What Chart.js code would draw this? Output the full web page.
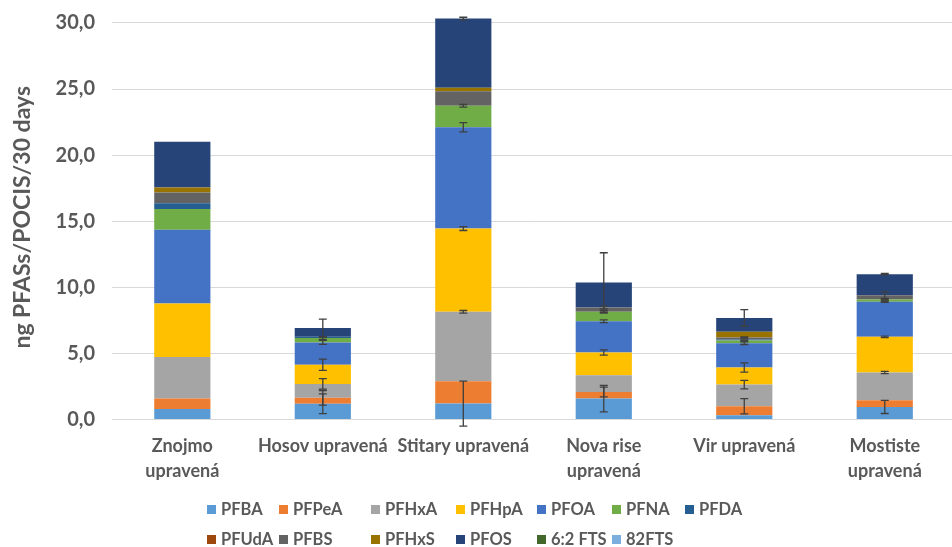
<!DOCTYPE html>
<html>
<head>
<meta charset="utf-8">
<script src="https://cdn.jsdelivr.net/npm/chart.js@4/dist/chart.umd.min.js"></script>
<style>
  html, body { margin: 0; padding: 0; background: #ffffff; }
  body { width: 952px; height: 547px; overflow: hidden; position: relative; }
  #chart { position: absolute; left: 0; top: -14px; }
  #legend {
    position: absolute; left: 207px; top: 494px;
    font-family: Lato, "Open Sans", sans-serif; font-weight: bold; font-size: 16.5px; color: #595959;
  }
  .row { display: flex; height: 30px; align-items: center; }
  .item { display: flex; align-items: center; white-space: nowrap; }
  .sw { width: 9px; height: 9px; margin-right: 5px; }
</style>
</head>
<body>
<canvas id="chart" width="958" height="561"></canvas>
<div id="legend"></div>
<script>
// Sampling sites
const sites = [
  ["Znojmo", "upravená"],
  "Hosov upravená",
  "Stitary upravená",
  ["Nova rise", "upravená"],
  "Vir upravená",
  ["Mostiste", "upravená"]
];

// Compound names, bottom of the stack first
const compounds = ["PFBA", "PFPeA", "PFHxA", "PFHpA", "PFOA", "PFNA", "PFDA",
                   "PFUdA", "PFBS", "PFHxS", "PFOS", "6:2 FTS", "82FTS"];

// ng per POCIS per 30 days, one array per compound (site order as above)
const PFBA   = [0.80, 1.20, 1.21, 1.59, 0.33, 0.96];
const PFPeA  = [0.80, 0.45, 1.69, 0.50, 0.68, 0.50];
const PFHxA  = [3.13, 1.05, 5.25, 1.26, 1.64, 2.10];
const PFHpA  = [4.05, 1.45, 6.30, 1.72, 1.29, 2.70];
const PFOA   = [5.58, 1.69, 7.66, 2.37, 1.84, 2.65];
const PFNA   = [1.56, 0.33, 1.62, 0.71, 0.20, 0.17];
const PFDA   = [0.45, 0.10, 0.00, 0.00, 0.08, 0.00];
const PFUdA  = [0.00, 0.00, 0.00, 0.00, 0.00, 0.00];
const PFBS   = [0.80, 0.00, 1.10, 0.33, 0.15, 0.33];
const PFHxS  = [0.38, 0.00, 0.26, 0.00, 0.43, 0.00];
const PFOS   = [3.47, 0.65, 5.24, 1.89, 1.05, 1.59];
const FTS62  = [0.00, 0.00, 0.00, 0.00, 0.00, 0.00];
const FTS82  = [0.00, 0.00, 0.00, 0.00, 0.00, 0.00];

// Standard deviations (error bars at the top of each segment)
const PFBA_sd  = [0, 0.75, 1.70, 1.00, 0.00, 0.50];
const PFPeA_sd = [0, 0.55, 0.00, 0.37, 0.58, 0.00];
const PFHxA_sd = [0, 0.40, 0.10, 0.00, 0.32, 0.08];
const PFHpA_sd = [0, 0.42, 0.15, 0.20, 0.35, 0.06];
const PFOA_sd  = [0, 0.15, 0.35, 0.10, 0.10, 0.05];
const PFNA_sd  = [0, 0.10, 0.10, 0.10, 0.05, 0.05];
const PFBS_sd  = [0, 0.00, 0.00, 0.10, 0.05, 0.25];
const PFOS_sd  = [0, 0.68, 0.10, 2.25, 0.63, 0.05];
const zero_sd  = [0, 0, 0, 0, 0, 0];

// Y axis tick values
const yTicks = [0, 5, 10, 15, 20, 25, 30];

const seriesValues = [PFBA, PFPeA, PFHxA, PFHpA, PFOA, PFNA, PFDA, PFUdA, PFBS, PFHxS, PFOS, FTS62, FTS82];
const seriesErrors = [PFBA_sd, PFPeA_sd, PFHxA_sd, PFHpA_sd, PFOA_sd, PFNA_sd, zero_sd, zero_sd, PFBS_sd, zero_sd, PFOS_sd, zero_sd, zero_sd];
const colors = ["#5B9BD5", "#ED7D31", "#A5A5A5", "#FFC000", "#4472C4", "#70AD47", "#255E91",
                "#9E480E", "#636363", "#997300", "#264478", "#43682B", "#7CAFDD"];

const FONT = "Lato, 'Open Sans', sans-serif";
const TEXT = "#595959";

const datasets = compounds.map((name, i) => ({
  label: name,
  data: seriesValues[i],
  errors: seriesErrors[i],
  backgroundColor: colors[i],
  borderWidth: 0,
  barPercentage: 0.4,
  categoryPercentage: 1.0
}));

// Draws vertical error whiskers at the cumulative top of each stacked segment
const errorBars = {
  id: "errorBars",
  afterDatasetsDraw(chart) {
    const ctx = chart.ctx;
    const y = chart.scales.y;
    const cum = new Array(sites.length).fill(0);
    ctx.save();
    ctx.strokeStyle = "#3f3f3f";
    ctx.lineWidth = 1.3;
    chart.data.datasets.forEach((ds, di) => {
      const meta = chart.getDatasetMeta(di);
      ds.data.forEach((v, j) => {
        cum[j] += v;
        const e = ds.errors[j];
        if (!e) return;
        const x = meta.data[j].x;
        const yHi = y.getPixelForValue(cum[j] + e);
        const yLo = y.getPixelForValue(cum[j] - e);
        ctx.beginPath();
        ctx.moveTo(x, yHi); ctx.lineTo(x, yLo);
        ctx.moveTo(x - 4, yHi); ctx.lineTo(x + 4, yHi);
        ctx.moveTo(x - 4, yLo); ctx.lineTo(x + 4, yLo);
        ctx.stroke();
      });
    });
    ctx.restore();
  }
};

new Chart(document.getElementById("chart"), {
  type: "bar",
  data: { labels: sites, datasets },
  options: {
    responsive: false,
    animation: false,
    layout: { padding: { top: 0, right: 3, bottom: 49, left: 9 } },
    plugins: { legend: { display: false }, tooltip: { enabled: false } },
    scales: {
      x: {
        stacked: true,
        grid: { display: false, drawTicks: false },
        border: { display: false },
        ticks: {
          color: TEXT, padding: 14, maxRotation: 0, autoSkip: false,
          font: { family: FONT, weight: "bold", size: 18, lineHeight: 1.4 }
        }
      },
      y: {
        stacked: true,
        min: 0, max: 30.6,
        afterBuildTicks(axis) { axis.ticks = yTicks.map(v => ({ value: v })); },
        grid: { color: "#d9d9d9", lineWidth: 1, drawTicks: false },
        border: { display: false },
        ticks: {
          color: TEXT, padding: 17,
          font: { family: FONT, weight: "bold", size: 20 },
          callback: v => v.toFixed(1).replace(".", ",")
        },
        title: {
          display: true, text: "ng PFASs/POCIS/30 days", color: TEXT, padding: { top: 0, bottom: 2 },
          font: { family: FONT, weight: "bold", size: 23 }
        }
      }
    }
  },
  plugins: [errorBars]
});

// Legend laid out in two rows of columns
const legendRows = [compounds.slice(0, 7), compounds.slice(7)];
const colWidths = [72, 92, 85, 81, 75, 73, 80];
const legend = document.getElementById("legend");
legendRows.forEach(row => {
  const r = document.createElement("div");
  r.className = "row";
  row.forEach((name, k) => {
    const idx = compounds.indexOf(name);
    const it = document.createElement("div");
    it.className = "item";
    it.style.width = colWidths[k] + "px";
    const sw = document.createElement("span");
    sw.className = "sw";
    sw.style.background = colors[idx];
    it.appendChild(sw);
    it.appendChild(document.createTextNode(name));
    r.appendChild(it);
  });
  legend.appendChild(r);
});
</script>
</body>
</html>
